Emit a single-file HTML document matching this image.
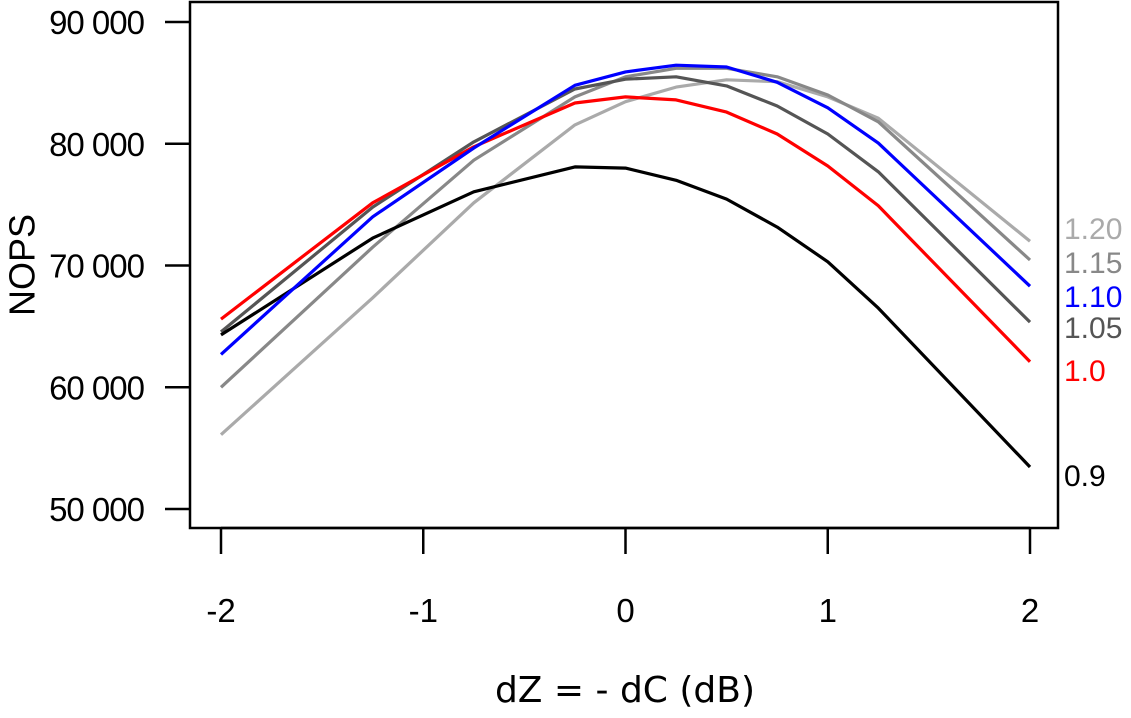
<!DOCTYPE html>
<html><head><meta charset="utf-8"><style>
body{margin:0;background:#fff;}
svg{display:block;font-family:"Liberation Sans",sans-serif;}
</style></head><body>
<svg id="chart" width="1131" height="718">
<rect x="190" y="2" width="868" height="526" fill="none" stroke="#000" stroke-width="2.5"/>
<g id="axes"></g><g id="lines"></g><g id="labels"></g>
<text x="22" y="265" transform="rotate(-90 22 265)" text-anchor="middle" dominant-baseline="central" font-size="36">NOPS</text>
<text x="625" y="702" text-anchor="middle" font-size="36" font-family="'DejaVu Sans',sans-serif">dZ = - dC (dB)</text>
</svg>
<script>
const xs = [-2,-1.25,-0.75,-0.25,0,0.25,0.5,0.75,1,1.25,2];
const s090 = [64300,72250,76050,78100,78000,77000,75450,73150,70300,66500,53450];
const s100 = [65600,75150,79750,83350,83850,83600,82600,80800,78170,74900,62100];
const s105 = [64550,74800,80150,84500,85300,85500,84750,83100,80800,77700,65350];
const s110 = [62700,74000,79650,84800,85900,86450,86300,85050,82950,80050,68300];
const s115 = [60000,71500,78650,83850,85500,86200,86200,85500,84000,81800,70450];
const s120 = [56100,67350,75150,81550,83450,84650,85250,85100,83850,82100,72000];
const seriesNames = ["0.9","1.0","1.05","1.10","1.15","1.20"];
const yTicks = [50000,60000,70000,80000,90000];
const yTickLabels = ["50 000","60 000","70 000","80 000","90 000"];
const xTicks = [-2,-1,0,1,2];
const xTickLabels = ["-2","-1","0","1","2"];

const sx = v => 221 + (v + 2) * 202.25;
const sy = v => 22 + (90000 - v) * 0.012175;
const NS = "http://www.w3.org/2000/svg";
function mk(tag, attrs, parent){const e=document.createElementNS(NS,tag);for(const k in attrs)e.setAttribute(k,attrs[k]);parent.appendChild(e);return e;}
const axes=document.getElementById('axes'), lines=document.getElementById('lines'), labels=document.getElementById('labels');

yTicks.forEach((t,i)=>{
  const y=sy(t);
  const tk=mk('line',{x1:165,x2:190,y1:y,y2:y,stroke:'#000','stroke-width':2.5},axes);
  
  
  const tx=mk('text',{x:144,y:y+12,'text-anchor':'end','font-size':33,'letter-spacing':'-1'},axes);
  tx.textContent=yTickLabels[i];
  
  
});
const xa=mk('line',{x1:sx(-2),x2:sx(2),y1:528,y2:528,stroke:'#000','stroke-width':2.5},axes);


xTicks.forEach((t,i)=>{
  const x=sx(t);
  const tk=mk('line',{x1:x,x2:x,y1:528,y2:554,stroke:'#000','stroke-width':2.5},axes);
  
  
  const tx=mk('text',{x:x,y:622,'text-anchor':'middle','font-size':33},axes);
  tx.textContent=xTickLabels[i];
  
  
});

const all=[s090,s100,s105,s110,s115,s120];
const colors=["#000","#ff0000","#555","#0000ff","#888","#aaa"];
const order=[5,4,2,0,1,3];
order.forEach(i=>{
  const d=all[i].map((v,j)=>(j?'L':'M')+sx(xs[j]).toFixed(1)+','+sy(v).toFixed(1)).join(' ');
  const p=mk('path',{d:d,fill:'none',stroke:colors[i],'stroke-width':3.2,'stroke-linejoin':'round'},lines);
  
  
});
const labelY=[475,370,327,296,262,228];
seriesNames.forEach((n,i)=>{
  const t=mk('text',{x:1064,y:labelY[i]+11,'font-size':30,fill:colors[i]},labels);
  t.textContent=n;
  
  
});
</script>
</body></html>
